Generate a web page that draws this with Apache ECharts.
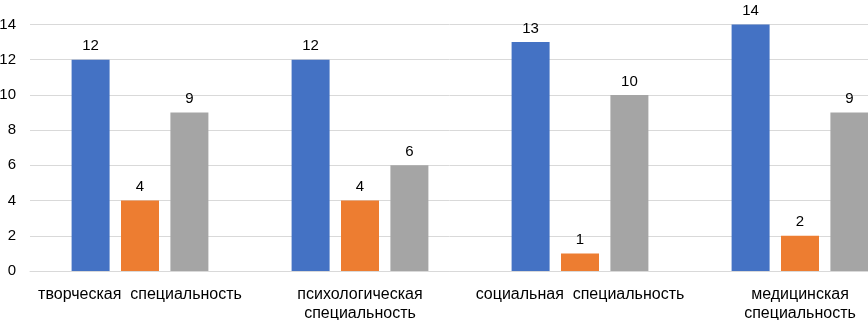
<!DOCTYPE html>
<html>
<head>
<meta charset="utf-8">
<script src="https://cdn.jsdelivr.net/npm/echarts@6/dist/echarts.min.js"></script>
<style>
  html, body { margin: 0; padding: 0; background: #fff; }
  #chart { width: 868px; height: 320px; }
</style>
</head>
<body>
<div id="chart"></div>
<script>
var categories = [
  'творческая  специальность',
  'психологическая\nспециальность',
  'социальная  специальность',
  'медицинская\nспециальность'
];
var seriesA = [12, 12, 13, 14];
var seriesB = [4, 4, 1, 2];
var seriesC = [9, 6, 10, 9];
var yTicks = { min: 0, max: 14, interval: 2 };

var colors = ['#4472C4', '#ED7D31', '#A5A5A5'];
var font = 'Liberation Sans, Arial, sans-serif';

function makeSeries(data, color) {
  return {
    type: 'bar',
    data: data,
    barWidth: 38,
    barGap: '30%',
    itemStyle: { color: color },
    label: {
      show: true,
      position: 'top',
      distance: 6,
      color: '#000',
      fontSize: 15,
      fontFamily: font
    }
  };
}

var chart = echarts.init(document.getElementById('chart'));
chart.setOption({
  animation: false,
  grid: {
    left: 30, top: 24.5, width: 880, height: 246.5,
    containLabel: false, outerBoundsMode: 'none'
  },
  xAxis: {
    type: 'category',
    data: categories,
    axisLine: { show: true, lineStyle: { color: '#D9D9D9' } },
    axisTick: { show: false },
    axisLabel: {
      color: '#000',
      fontSize: 16,
      fontFamily: font,
      margin: 14,
      lineHeight: 19,
      interval: 0
    }
  },
  yAxis: {
    type: 'value',
    min: yTicks.min,
    max: yTicks.max,
    interval: yTicks.interval,
    axisLine: { show: false },
    axisTick: { show: false },
    splitLine: { lineStyle: { color: '#D9D9D9', width: 1 } },
    axisLabel: {
      color: '#000',
      fontSize: 15,
      fontFamily: font,
      margin: 14
    }
  },
  series: [
    makeSeries(seriesA, colors[0]),
    makeSeries(seriesB, colors[1]),
    makeSeries(seriesC, colors[2])
  ]
});
</script>
</body>
</html>
